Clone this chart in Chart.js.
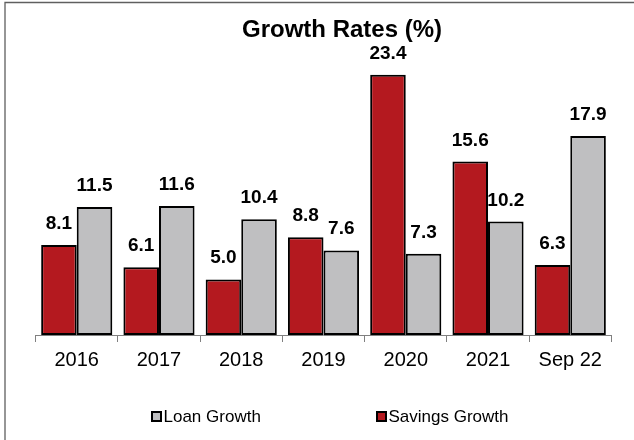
<!DOCTYPE html>
<html>
<head>
<meta charset="utf-8">
<script src="https://cdn.jsdelivr.net/npm/chart.js@4/dist/chart.umd.min.js"></script>
<style>
  html, body { margin: 0; padding: 0; background: #fff; }
  #wrap { width: 634px; height: 440px; position: relative; }
</style>
</head>
<body>
<div id="wrap"><canvas id="c" width="634" height="440"></canvas></div>
<script>
// Annual growth rates, in percent
const categories = ['2016', '2017', '2018', '2019', '2020', '2021', 'Sep 22'];
const savingsGrowth = [8.1, 6.1, 5.0, 8.8, 23.4, 15.6, 6.3];
const loanGrowth = [11.5, 11.6, 10.4, 7.6, 7.3, 10.2, 17.9];
const chartTitle = 'Growth Rates (%)';
const yMax = 25;

const RED = '#B4191F';
const GREY = '#BFBFC1';

// White background plus the thin frame along the top and left edges
const framePlugin = {
  id: 'frame',
  beforeDraw(chart) {
    const ctx = chart.ctx;
    ctx.save();
    ctx.fillStyle = '#ffffff';
    ctx.fillRect(0, 0, chart.width, chart.height);
    ctx.strokeStyle = '#5f5f5f';
    ctx.lineWidth = 1.3;
    ctx.beginPath();
    ctx.moveTo(5, chart.height);
    ctx.lineTo(5, 2.5);
    ctx.lineTo(chart.width, 2.5);
    ctx.stroke();
    ctx.restore();
  }
};

// Value written above every bar
const valueLabelPlugin = {
  id: 'valueLabels',
  afterDatasetsDraw(chart) {
    const ctx = chart.ctx;
    ctx.save();
    ctx.font = 'bold 19px "Liberation Sans", Arial, sans-serif';
    ctx.fillStyle = '#000';
    ctx.textAlign = 'center';
    ctx.textBaseline = 'alphabetic';
    chart.data.datasets.forEach((ds, i) => {
      const meta = chart.getDatasetMeta(i);
      meta.data.forEach((bar, j) => {
        ctx.fillText(ds.data[j].toFixed(1), bar.x, bar.y - 16);
      });
    });
    ctx.restore();
  }
};

// Title at the top and legend (Loan first, then Savings) at the bottom
const titleLegendPlugin = {
  id: 'titleLegend',
  afterDraw(chart) {
    const ctx = chart.ctx;
    ctx.save();
    ctx.fillStyle = '#000';
    ctx.textAlign = 'center';
    ctx.textBaseline = 'alphabetic';
    ctx.font = 'bold 24px "Liberation Sans", Arial, sans-serif';
    ctx.fillText(chartTitle, 342, 37);

    const order = [1, 0];
    const legendX0 = 152;
    const legendStep = 225;
    const boxTop = 412;
    ctx.font = '17px "Liberation Sans", Arial, sans-serif';
    ctx.textAlign = 'left';
    order.forEach((dsIndex, k) => {
      const ds = chart.data.datasets[dsIndex];
      const bx = legendX0 + k * legendStep;
      ctx.fillStyle = ds.backgroundColor;
      ctx.fillRect(bx, boxTop, 9, 9);
      ctx.strokeStyle = '#000';
      ctx.lineWidth = 2;
      ctx.strokeRect(bx, boxTop, 9, 9);
      ctx.fillStyle = '#000';
      ctx.fillText(ds.label, bx + 11.5, 421.5);
    });
    ctx.restore();
  }
};

new Chart(document.getElementById('c'), {
  type: 'bar',
  data: {
    labels: categories,
    datasets: [
      {
        label: 'Savings Growth',
        data: savingsGrowth,
        backgroundColor: RED,
        borderColor: '#000',
        borderWidth: 2,
        borderSkipped: false
      },
      {
        label: 'Loan Growth',
        data: loanGrowth,
        backgroundColor: GREY,
        borderColor: '#000',
        borderWidth: 2,
        borderSkipped: false
      }
    ]
  },
  options: {
    responsive: false,
    animation: false,
    devicePixelRatio: 1,
    categoryPercentage: 0.865,
    barPercentage: 1,
    layout: {
      padding: { left: 35.6, right: 22.6, top: 57, bottom: 62 }
    },
    plugins: {
      legend: { display: false },
      title: { display: false },
      tooltip: { enabled: false }
    },
    scales: {
      x: {
        offset: true,
        grid: {
          offset: true,
          drawOnChartArea: false,
          drawTicks: true,
          tickLength: 7,
          color: '#808080',
          lineWidth: 1
        },
        border: { display: true, color: '#808080', width: 1 },
        ticks: {
          color: '#000',
          padding: 6,
          font: { family: '"Liberation Sans", Arial, sans-serif', size: 20 }
        }
      },
      y: {
        display: false,
        min: 0,
        max: yMax
      }
    }
  },
  plugins: [framePlugin, valueLabelPlugin, titleLegendPlugin]
});
</script>
</body>
</html>
